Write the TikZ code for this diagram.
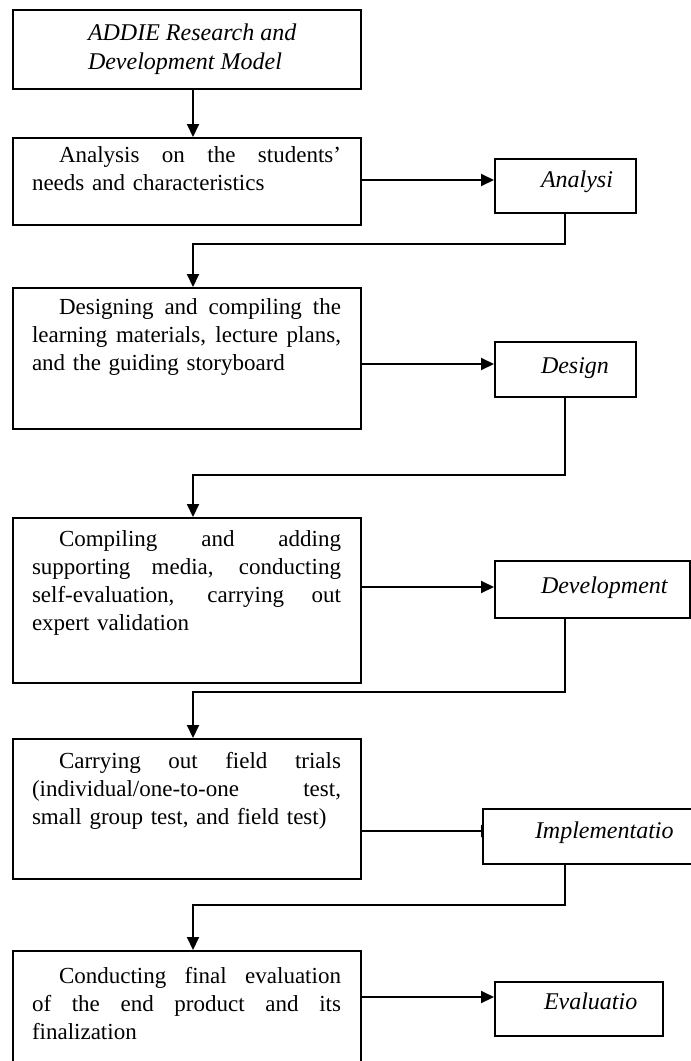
\documentclass[tikz,border=0pt]{standalone}
\usepackage{fontspec}
\setmainfont{Liberation Serif}
\usetikzlibrary{arrows.meta,backgrounds}
\newcommand{\jline}[2]{\makebox[#1][s]{\spaceskip=0pt\xspaceskip=0pt\relax #2}}
\begin{document}
\begin{tikzpicture}[x=1pt,y=-1pt,
  line width=2pt,
  frame/.style={draw=black, fill=white, rectangle, inner sep=0pt, anchor=north west},
  body/.style={anchor=north west, inner sep=0pt, text width=309pt, align=left,
    font=\fontsize{23pt}{28pt}\selectfont},
  ttl/.style={anchor=north west, inner sep=0pt, align=left,
    font=\fontsize{24pt}{29pt}\selectfont\itshape},
  lbl/.style={anchor=base west, inner sep=0pt, font=\fontsize{24pt}{29pt}\selectfont\itshape},
  arr/.style={line width=2pt, -{Triangle[length=13pt,width=12pt]}}]
\useasboundingbox (0,0) rectangle (691,1061);
\clip (0,0) rectangle (691,1061);

% column and row coordinates
\coordinate (cL) at (193,0);
\coordinate (cR) at (565,0);
\coordinate (h1) at (0,244);
\coordinate (h2) at (0,475);
\coordinate (h3) at (0,692);
\coordinate (h4) at (0,905);
\coordinate (a1) at (0,180);
\coordinate (a2) at (0,364);
\coordinate (a3) at (0,587);
\coordinate (a4) at (0,831);
\coordinate (a5) at (0,997);
\coordinate (a4end) at (494,831);
\coordinate (a4start) at (360,831);

% arrow into Implementatio (its head hidden under the box)
\begin{scope}[on background layer]
\draw[arr] (a4start) -- (a4end);
\end{scope}

% left boxes
\node[frame, minimum width=348pt, minimum height=79pt]  (title) at (12,9) {};
\node[frame, minimum width=348pt, minimum height=87pt]  (box1) at (12,137) {};
\node[frame, minimum width=348pt, minimum height=141pt] (box2) at (12,287) {};
\node[frame, minimum width=348pt, minimum height=165pt] (box3) at (12,517) {};
\node[frame, minimum width=348pt, minimum height=140pt] (box4) at (12,738) {};
\node[frame, minimum width=348pt, minimum height=150pt] (box5) at (12,950) {};

% right boxes
\node[frame, minimum width=141pt, minimum height=54pt] (lab1) at (494,158) {};
\node[frame, minimum width=141pt, minimum height=55pt] (lab2) at (494,341) {};
\node[frame, minimum width=195pt, minimum height=57pt] (lab3) at (494,560) {};
\node[frame, minimum width=230pt, minimum height=55pt] (lab4) at (482,808) {};
\node[frame, minimum width=168pt, minimum height=54pt] (lab5) at (494,981) {};

% texts
\node[ttl] (tt) at (87,19) {\rule{0pt}{20pt}ADDIE Research and\\Development Model};

\node[body] (t1) at (31,141) {\noindent\rule{0pt}{20pt}\hspace*{27pt}\jline{282pt}{Analysis on the students'}\\
needs and characteristics};
\node[body] (t2) at (31,293) {\noindent\rule{0pt}{20pt}\hspace*{27pt}\jline{282pt}{Designing and compiling the}\\
\jline{309pt}{learning materials, lecture plans,}\\
and the guiding storyboard};
\node[body] (t3) at (31,525) {\noindent\rule{0pt}{20pt}\hspace*{27pt}\jline{282pt}{Compiling and adding}\\
\jline{309pt}{supporting media, conducting}\\
\jline{309pt}{self-evaluation, carrying out}\\
expert validation};
\node[body] (t4) at (31,747) {\noindent\rule{0pt}{20pt}\hspace*{27pt}\jline{282pt}{Carrying out field trials}\\
\jline{309pt}{(individual/one-to-one test,}\\
small group test, and field test)};
\node[body] (t5) at (31,962) {\noindent\rule{0pt}{20pt}\hspace*{27pt}\jline{282pt}{Conducting final evaluation}\\
\jline{309pt}{of the end product and its}\\
finalization};

\node[lbl] (l1) at (540,187) {Analysi};
\node[lbl] (l2) at (540,373) {Design};
\node[lbl] (l3) at (540,593) {Development};
\node[lbl] (l4) at (534,838) {Implementatio};
\node[lbl] (l5) at (543,1009) {Evaluatio};

% connectors
\draw[arr] (title.south -| cL) -- (box1.north -| cL);
\draw[arr] (box1.east |- a1) -- (lab1.west |- a1);
\draw[arr] (lab1.south -| cR) -- (h1 -| cR) -- (h1 -| cL) -- (box2.north -| cL);
\draw[arr] (box2.east |- a2) -- (lab2.west |- a2);
\draw[arr] (lab2.south -| cR) -- (h2 -| cR) -- (h2 -| cL) -- (box3.north -| cL);
\draw[arr] (box3.east |- a3) -- (lab3.west |- a3);
\draw[arr] (lab3.south -| cR) -- (h3 -| cR) -- (h3 -| cL) -- (box4.north -| cL);
\draw[arr] (lab4.south -| cR) -- (h4 -| cR) -- (h4 -| cL) -- (box5.north -| cL);
\draw[arr] (box5.east |- a5) -- (lab5.west |- a5);
\end{tikzpicture}
\end{document}
